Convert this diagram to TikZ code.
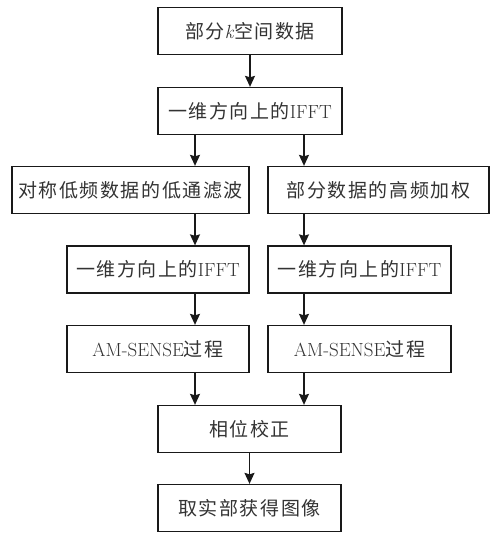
\documentclass[tikz,border=0pt]{standalone}
\usepackage{fontspec}
\newfontfamily\cjk{Noto Sans CJK SC}[Scale=1.0,LetterSpace=8]
\usetikzlibrary{arrows.meta}
\begin{document}
\begin{tikzpicture}[x=1pt,y=-1pt,
  box/.style={draw=black!90, line width=1.3pt, rectangle, inner sep=0pt,
    minimum height=47pt, font=\fontsize{19}{22}\selectfont, text=black!80},
  arr/.style={line width=1.3pt, draw=black!90, -{Stealth[length=11pt,width=10pt,inset=1.5pt]}}]
\useasboundingbox (0,0) rectangle (498,533);
\node[box, minimum width=184pt] (b1) at (250,31) {{\cjk 部分}\textit{k}{\cjk 空间数据}};
\node[box, minimum width=184pt] (b2) at (250,111) {{\cjk 一维方向上的}IFFT};
\node[box, minimum width=237pt] (b3l) at (130.5,190) {\cjk 对称低频数据的低通滤波};
\node[box, minimum width=221pt] (b3r) at (378.5,190) {\cjk 部分数据的高频加权};
\node[box, minimum width=182pt] (b4l) at (158,269.5) {{\cjk 一维方向上的}IFFT};
\node[box, minimum width=183pt] (b4r) at (359.5,269.5) {{\cjk 一维方向上的}IFFT};
\node[box, minimum width=182pt] (b5l) at (158,349) {AM-SENSE{\cjk 过程}};
\node[box, minimum width=183pt] (b5r) at (359.5,349) {AM-SENSE{\cjk 过程}};
\node[box, minimum width=183pt] (b6) at (249.5,429) {\cjk 相位校正};
\node[box, minimum width=183pt] (b7) at (249.5,508) {\cjk 取实部获得图像};
\coordinate (xl) at (195,0);
\coordinate (xr) at (304,0);
\draw[arr] (b1.south) -- (b2.north);
\draw[arr] (b2.south -| xl) -- (b3l.north -| xl);
\draw[arr] (b2.south -| xr) -- (b3r.north -| xr);
\draw[arr] (b3l.south -| xl) -- (b4l.north -| xl);
\draw[arr] (b3r.south -| xr) -- (b4r.north -| xr);
\draw[arr] (b4l.south -| xl) -- (b5l.north -| xl);
\draw[arr] (b4r.south -| xr) -- (b5r.north -| xr);
\draw[arr] (b5l.south -| xl) -- (b6.north -| xl);
\draw[arr] (b5r.south -| xr) -- (b6.north -| xr);
\draw[arr] (b6.south) -- (b7.north);
\end{tikzpicture}
\end{document}
